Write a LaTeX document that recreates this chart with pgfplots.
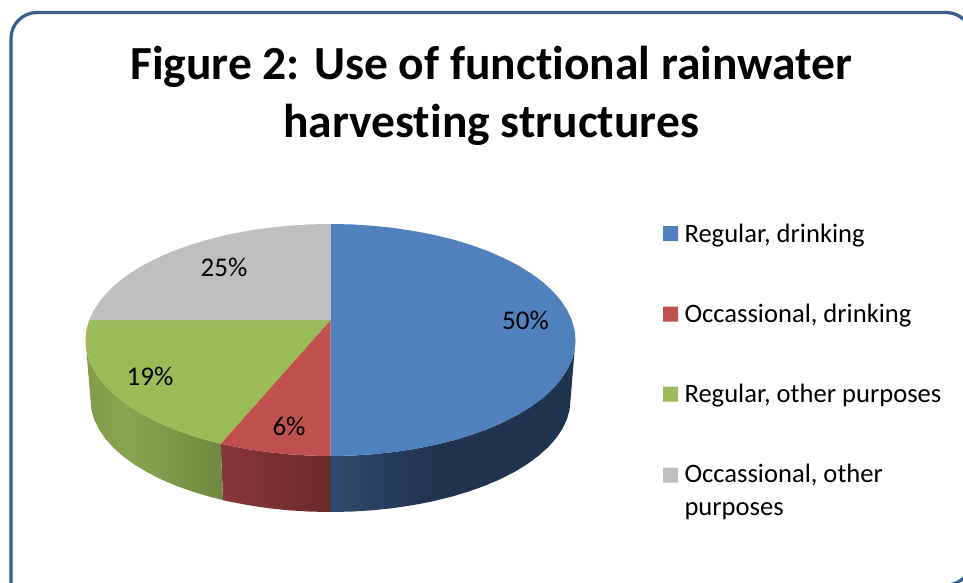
\documentclass[border=0pt]{standalone}
\usepackage{fontspec}
\setmainfont[Ligatures=NoCommon]{Carlito}
\usepackage{pgfplots}
\pgfplotsset{compat=1.18}
\definecolor{framec}{HTML}{385D8A}
\definecolor{blue1}{HTML}{4F81BD}
\definecolor{red1}{HTML}{C0504D}
\definecolor{green1}{HTML}{9BBB59}
\definecolor{gray1}{HTML}{BFBFBF}
\definecolor{blueA}{RGB}{45,74,110}
\definecolor{blueB}{RGB}{31,52,78}
\definecolor{redA}{RGB}{136,55,54}
\definecolor{redB}{RGB}{106,42,41}
\definecolor{greenA}{RGB}{128,155,74}
\definecolor{greenB}{RGB}{138,165,80}
\definecolor{greenC}{RGB}{110,136,64}
% sides of the pie: bbox of a path maps onto 25bp..75bp
\pgfdeclarehorizontalshading{blueside}{100bp}{color(0bp)=(blueA); color(25bp)=(blueA); color(46bp)=(blueB); color(100bp)=(blueB)}
\pgfdeclarehorizontalshading{redside}{100bp}{color(0bp)=(redA); color(25bp)=(redA); color(75bp)=(redB); color(100bp)=(redB)}
\pgfdeclarehorizontalshading{greenside}{100bp}{color(0bp)=(greenA); color(25bp)=(greenA); color(40bp)=(greenB); color(75bp)=(greenC); color(100bp)=(greenC)}
\tikzset{
    legtext/.style={anchor=base west, inner sep=0pt, font=\fontsize{26.6bp}{33bp}\selectfont},
    pct/.style={font=\fontsize{27bp}{30bp}\selectfont},
}
\begin{document}
\begin{tikzpicture}
\path[use as bounding box] (0,0) rectangle (963bp,583bp);
\clip (0,0) rectangle (963bp,583bp);
\begin{axis}[
    at={(0,0)}, anchor=south west,
    width=963bp, height=583bp, scale only axis,
    xmin=0, xmax=963, ymin=0, ymax=583,
    y dir=reverse,
    hide axis,
    title={Figure 2: Use of functional rainwater\\harvesting structures},
    title style={at={(0.51,0.9115)}, anchor=north, align=center, inner sep=0pt,
        font=\fontsize{47.5bp}{58bp}\selectfont\bfseries},
]
% frame, running off the right and bottom edges
\addplot[draw=framec, line width=3.2bp, rounded corners=26bp] coordinates {
    (11,585) (11,12.5) (972,12.5) (972,585) (11,585)};

% sides
\addplot[draw=none, shading=blueside] coordinates {
    (330.5,456) (351.9,455.6) (373,454.2) (393.9,452) (414.3,449) (434,445.1) (453,440.5)
    (471,435) (488,428.9) (503.7,422) (518.2,414.6) (531.2,406.5) (542.7,398) (552.5,389)
    (560.7,379.7) (567.1,370) (571.8,360.1) (574.6,350.1) (575.5,340)
    (570.5,400) (569.6,409.8) (566.9,419.4) (562.3,429) (556,438.3) (548,447.3) (538.3,456)
    (527.1,464.2) (514.4,472) (500.2,479.2) (484.8,485.8) (468.2,491.7) (450.5,497)
    (431.9,501.5) (412.6,505.2) (392.6,508.2) (372.2,510.3) (351.4,511.6) (330.5,512)
    (330.5,456)};
\addplot[draw=none, shading=redside] coordinates {
    (220.7,443.7) (227,445.1) (246.7,449) (267.1,452) (288,454.2) (309.1,455.6) (330.5,456)
    (330.5,512) (309.6,511.6) (288.8,510.3) (268.4,508.2) (248.4,505.2) (229.1,501.5) (223,500.1)
    (220.7,443.7)};
\addplot[draw=none, shading=greenside] coordinates {
    (85.5,340) (86.4,350.1) (89.2,360.1) (93.9,370) (100.3,379.7) (108.5,389) (118.3,398)
    (129.8,406.5) (142.8,414.6) (157.3,422) (173,428.9) (190,435) (208,440.5) (220.7,443.7)
    (223,500.1) (210.5,497) (192.8,491.7) (176.2,485.8) (160.8,479.2) (146.6,472) (133.9,464.2)
    (122.7,456) (113,447.3) (105,438.3) (98.7,429) (94.1,419.4) (91.4,409.8) (90.5,400)
    (85.5,340)};

% top of the pie
\addplot[draw=none, fill=blue1] coordinates {
    (330.5,320) (330.5,224) (351.9,224.4) (373,225.8) (393.9,228) (414.3,231) (434,234.9)
    (453,239.5) (471,245) (488,251.1) (503.7,258) (518.2,265.4) (531.2,273.5) (542.7,282)
    (552.5,291) (560.7,300.3) (567.1,310) (571.8,319.9) (574.6,329.9) (575.5,340)
    (574.6,350.1) (571.8,360.1) (567.1,370) (560.7,379.7) (552.5,389) (542.7,398) (531.2,406.5)
    (518.2,414.6) (503.7,422) (488,428.9) (471,435) (453,440.5) (434,445.1) (414.3,449)
    (393.9,452) (373,454.2) (351.9,455.6) (330.5,456) (330.5,320)};
\addplot[draw=none, fill=red1] coordinates {
    (330.5,320) (330.5,456) (309.1,455.6) (288,454.2) (267.1,452) (246.7,449) (227,445.1)
    (220.7,443.7) (330.5,320)};
\addplot[draw=none, fill=green1] coordinates {
    (330.5,320) (220.7,443.7) (208,440.5) (190,435) (173,428.9) (157.3,422) (142.8,414.6)
    (129.8,406.5) (118.3,398) (108.5,389) (100.3,379.7) (93.9,370) (89.2,360.1) (86.4,350.1)
    (85.5,340) (86.4,329.9) (89.2,320) (330.5,320)};
\addplot[draw=none, fill=gray1] coordinates {
    (330.5,320) (89.2,320) (93.9,310) (100.3,300.3) (108.5,291) (118.3,282) (129.8,273.5)
    (142.8,265.4) (157.3,258) (173,251.1) (190,245) (208,239.5) (227,234.9) (246.7,231)
    (267.1,228) (288,225.8) (309.1,224.4) (330.5,224) (330.5,320)};

% legend
\addplot[draw=none, fill=blue1] coordinates {(663,226) (678,226) (678,241) (663,241) (663,226)};
\addplot[draw=none, fill=red1] coordinates {(663,306.7) (678,306.7) (678,321.7) (663,321.7) (663,306.7)};
\addplot[draw=none, fill=green1] coordinates {(663,386.7) (678,386.7) (678,401.7) (663,401.7) (663,386.7)};
\addplot[draw=none, fill=gray1] coordinates {(663,467.7) (678,467.7) (678,482.7) (663,482.7) (663,467.7)};
\node[legtext] at (axis cs:684.3,242.5) {Regular, drinking};
\node[legtext] at (axis cs:684.3,322.5) {Occassional, drinking};
\node[legtext] at (axis cs:684.3,402.5) {Regular, other purposes};
\node[legtext] at (axis cs:684.3,482.5) {Occassional, other};
\node[legtext] at (axis cs:684.3,515.5) {purposes};

\node[pct] at (axis cs:525.5,320.5) {50\%};
\node[pct] at (axis cs:224,267.5) {25\%};
\node[pct] at (axis cs:150,376.5) {19\%};
\node[pct] at (axis cs:289,426.5) {6\%};
\end{axis}
\end{tikzpicture}
\end{document}
